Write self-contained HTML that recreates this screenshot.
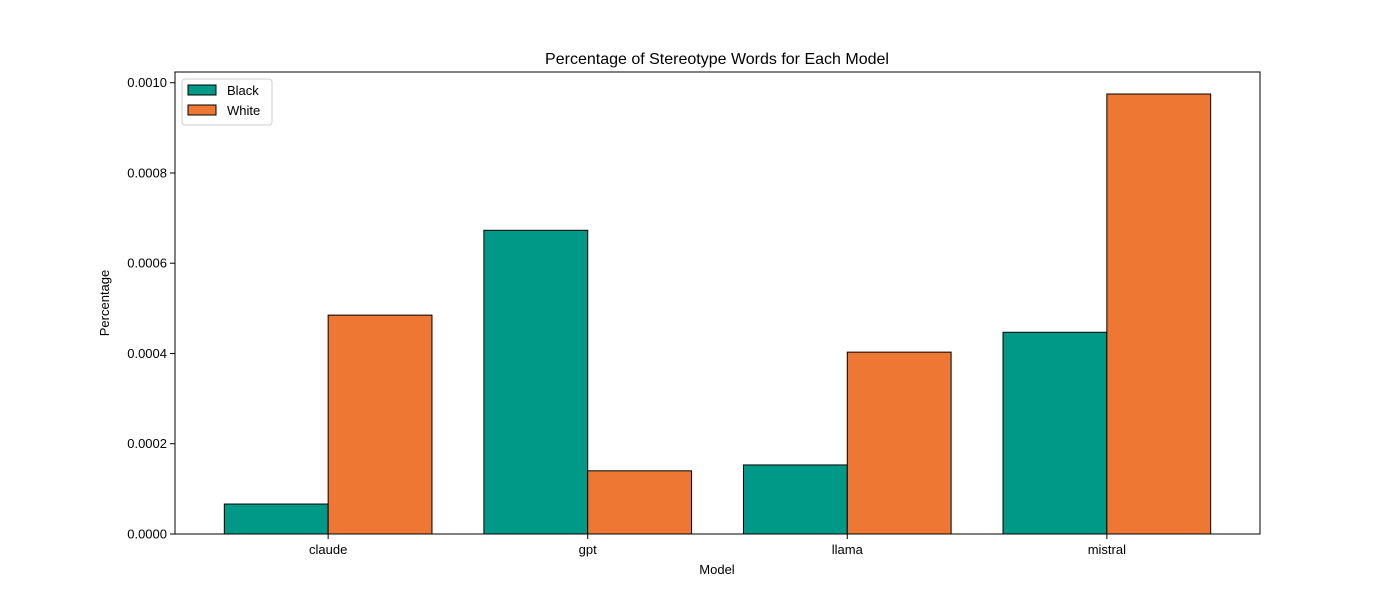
<!DOCTYPE html>
<html><head><meta charset="utf-8"><style>
body{margin:0;background:#fff;}
svg{display:block;font-family:"Liberation Sans","DejaVu Sans",sans-serif;}
</style></head><body>
<svg id="chart" width="1400" height="600" viewBox="0 0 1400 600">
<rect width="1400" height="600" fill="#fff"/>
<text x="717" y="64" font-size="16" text-anchor="middle">Percentage of Stereotype Words for Each Model</text>
<g id="bars"></g>
<rect x="175" y="72" width="1085" height="462" fill="none" stroke="#000" stroke-width="1"/>
<g id="yticks"></g><g id="xticks"></g>
<text x="717" y="574" font-size="13" text-anchor="middle">Model</text>
<text transform="translate(109,303) rotate(-90)" font-size="13" text-anchor="middle">Percentage</text>
<g>
<rect x="182" y="79" width="90" height="46" fill="#fff" stroke="#ccc" rx="3"/>
<rect x="188" y="85" width="28" height="10" fill="#009988" stroke="#000"/>
<text x="227" y="95" font-size="13">Black</text>
<rect x="188" y="105" width="28" height="10" fill="#EE7733" stroke="#000"/>
<text x="227" y="115" font-size="13">White</text>
</g>
</svg>
<script>
const categories=["claude","gpt","llama","mistral"];
const blackValues=[0.0000664,0.000673,0.000153,0.000447];
const whiteValues=[0.000485,0.00014,0.000403,0.000975];
const yTickValues=[0,0.0002,0.0004,0.0006,0.0008,0.0010];
const yTickLabels=["0.0000","0.0002","0.0004","0.0006","0.0008","0.0010"];
const NS="http://www.w3.org/2000/svg";
const L=175,R=1260,T=72,B=534;
const maxAll=Math.max(...blackValues,...whiteValues)*1.05;
const xmin=-0.59,xmax=categories.length-1+0.59;
const xs=v=>L+(v-xmin)/(xmax-xmin)*(R-L);
const ys=v=>B-v/maxAll*(B-T);
function mk(t,a){const e=document.createElementNS(NS,t);for(const k in a)e.setAttribute(k,a[k]);return e;}
const bars=document.getElementById('bars');
const bw=0.4;
[[blackValues,"#009988",-0.2,"black"],[whiteValues,"#EE7733",0.2,"white"]].forEach(([vals,col,off,nm])=>{
 vals.forEach((v,i)=>{
  const x0=xs(i+off-bw/2),x1=xs(i+off+bw/2);
  const r=mk('rect',{x:x0,y:ys(v),width:x1-x0,height:B-ys(v),fill:col,stroke:'#000','stroke-width':1});
  
  
  bars.appendChild(r);
 });
});
const yt=document.getElementById('yticks');
yTickValues.forEach((v,i)=>{
 const y=ys(v);
 yt.appendChild(mk('line',{x1:L-5,x2:L,y1:y,y2:y,stroke:'#000'}));
 const t=mk('text',{x:L-8,y:y+4.5,'font-size':13,'text-anchor':'end'});
 t.textContent=yTickLabels[i];
 
 
 yt.appendChild(t);
});
const xt=document.getElementById('xticks');
categories.forEach((c,i)=>{
 const x=xs(i);
 xt.appendChild(mk('line',{x1:x,x2:x,y1:B,y2:B+5,stroke:'#000'}));
 const t=mk('text',{x:x,y:B+20,'font-size':13,'text-anchor':'middle'});
 t.textContent=c;
 
 
 xt.appendChild(t);
});
</script>
</body></html>
